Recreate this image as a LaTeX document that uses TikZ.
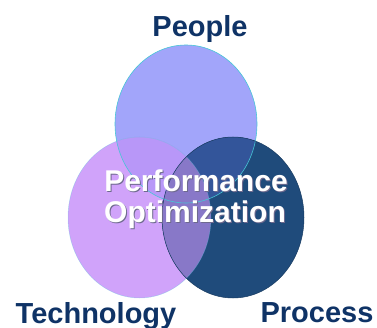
\documentclass[tikz,border=0pt]{standalone}
\usepackage{fontspec}
\usepackage{xcolor}
\usepackage{tikz}
\usetikzlibrary{positioning}
\newfontfamily\labelfont{Liberation Sans}
\definecolor{navy}{HTML}{0F3366}
\definecolor{peoplefill}{HTML}{A2A5FA}
\definecolor{peopleedge}{HTML}{45C6D6}
\definecolor{techfill}{HTML}{D0A3FA}
\definecolor{procfill}{HTML}{1F4B7B}
\definecolor{peopletech}{HTML}{B897F8}
\definecolor{peopleproc}{HTML}{33559A}
\definecolor{techproc}{HTML}{8878C8}
\definecolor{shadowgray}{HTML}{6E6A8E}
\newcommand{\shadowed}[1]{\rlap{\hspace{1pt}\raisebox{-1pt}{\color{shadowgray}#1}}#1}

\begin{document}
\begin{tikzpicture}[x=1pt,y=-1pt]
% Define styles
\tikzstyle{outer} = [font=\labelfont\bfseries\fontsize{29}{29}\selectfont, text=navy, anchor=base, inner sep=0pt]
\tikzstyle{inner} = [font=\labelfont\bfseries\fontsize{30}{30}\selectfont, text=white, anchor=base, inner sep=0pt]
\useasboundingbox (0,0) rectangle (377,328);
% Define circles
\def\people{(186,124) ellipse [x radius=71pt, y radius=79pt]}
\def\tech{(139.5,217.5) ellipse [x radius=71.5pt, y radius=80.5pt]}
\def\proc{(233,217.5) ellipse [x radius=71pt, y radius=80.5pt]}
\fill[peoplefill] \people;
\fill[techfill] \tech;
\fill[procfill] \proc;
% Overlaps
\begin{scope}
\clip \people;
\fill[peopletech] \tech;
\fill[peopleproc] \proc;
\end{scope}
\begin{scope}
\clip \tech;
\fill[techproc] \proc;
\end{scope}
\draw[peopleedge, line width=0.6pt] \people;
\draw[peopleedge, opacity=0.35, line width=0.5pt] \tech;
\draw[procfill!80!black, line width=0.5pt] \proc;

% Define nodes
\node[outer] (people) at (200,37) {People};
\node[outer] (technology) at (96,323) {Technology};
\node[outer] (process) at (317,322) {Process};
\node[inner] (perf) at (196,192) {\shadowed{Performance}};
\node[inner] (opt) at (195,223) {\shadowed{Optimization}};
\end{tikzpicture}
\end{document}
